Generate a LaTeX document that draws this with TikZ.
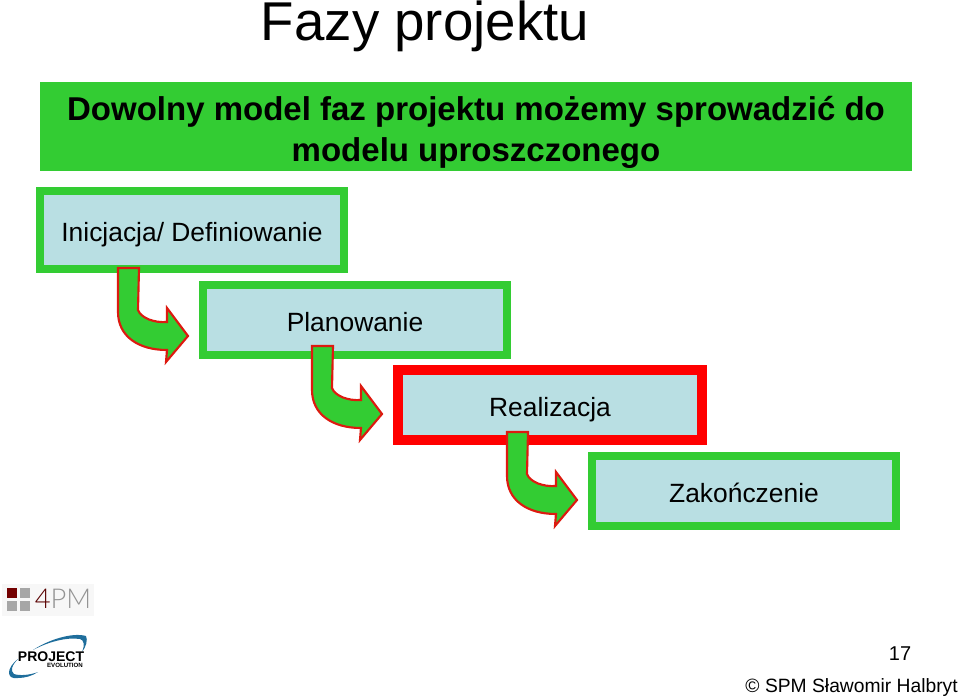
\documentclass[tikz,border=0pt]{standalone}
\usepackage{fontspec}
\setmainfont{Liberation Sans}
\newfontfamily\thinfont{Lato Light}
\usepackage{xcolor}
\usetikzlibrary{positioning}
\definecolor{phasegreen}{HTML}{33CC33}
\definecolor{phasefill}{HTML}{B9DFE3}
\definecolor{arrowred}{HTML}{DD1A10}
\definecolor{swoosh}{HTML}{1F6E9C}
\begin{document}
\begin{tikzpicture}[
  x=0.75pt, y=-0.75pt,
  phase/.style={draw=phasegreen, fill=phasefill, line width=6pt, minimum width=228pt,
    minimum height=52.5pt, align=center, text height=16.5pt, text depth=0pt,
    font=\fontsize{19.8}{24}\selectfont},
  current/.style={phase, draw=red, line width=6.8pt},
  header/.style={fill=phasegreen, minimum width=654pt, minimum height=66.75pt, align=center,
    font=\fontsize{24.75}{30.75}\selectfont\bfseries},
  turn/.style={draw=arrowred, fill=phasegreen, line width=1.6pt, line join=miter},
  small/.style={font=\fontsize{14.45}{18}\selectfont, inner sep=0pt}
]
  \useasboundingbox (0,0) rectangle (960,699);

  \node[font=\fontsize{41}{50}\selectfont, inner sep=0pt] (title) at (425,26) {Fazy projektu};
  \node[header] (intro) at (476,126.5) {};
  \node[font=\fontsize{24.75}{30.75}\selectfont\bfseries, align=center, inner sep=0pt] (introtext) at (476,132)
    {Dowolny model faz projektu możemy sprowadzić do\\modelu uproszczonego};

  \node[phase, minimum height=58.5pt] (init) at (192,230) {Inicjacja/ Definiowanie};
  \node[phase] (plan) at (355,320) {Planowanie};
  \node[current] (real) at (550,405) {Realizacja};
  \node[phase] (close) at (744,491) {Zakończenie};

  % block arrows hang from the lower edge of each box
  \foreach \from/\dx/\dy in {init/0/0, plan/194/78, real/389/164} {
    \begin{scope}[shift={(\dx,\dy)}]
      \draw[turn] (118,268) -- (139,268) -- (138,310)
        .. controls (141,318) and (154,323) .. (167,322)
        -- (167,308) -- (188,336) -- (166,362) -- (167,350)
        .. controls (138,350) and (118,336) .. (118,312) -- cycle;
    \end{scope}
  }

  % 4PM logo
  \fill[gray!6] (2,584) rectangle (94,616);
  \fill[red!45!black] (7,588) rectangle (17,598);
  \foreach \sqx/\sqy in {20/588, 7/601, 20/601}
    \fill[gray!70] (\sqx,\sqy) rectangle ++(10,10);
  \node[font=\fontsize{20.5}{24}\selectfont\thinfont, text=gray!85, inner sep=0pt] (logoa) at (63,599)
    {\textcolor{red!35!black}{4}PM};

  % project logo
  \fill[swoosh] (33,650) .. controls (48,640) and (72,632) .. (86,636)
    .. controls (88,640) and (86,647) .. (82,652) .. controls (85,645) and (84,640) .. (80,639)
    .. controls (66,637) and (48,642) .. (33,650);
  \fill[swoosh] (18,659) .. controls (6,668) and (6,680) .. (18,678)
    .. controls (25,678) and (32,676) .. (38,672) .. controls (30,675) and (20,676) .. (14,674)
    .. controls (10,671) and (12,665) .. (18,659);
  \node[font=\fontsize{10.5}{12}\selectfont\bfseries, inner sep=0pt] (logob) at (51,656.5) {PROJECT};
  \node[font=\fontsize{4.6}{6}\selectfont\bfseries, inner sep=0pt] (logoc) at (65,665) {EVOLUTION};

  \node[small, font=\fontsize{15}{18}\selectfont] (page) at (900,654) {17};
  \node[small, anchor=east] (credit) at (958,688) {© SPM Sławomir Halbryt};
\end{tikzpicture}
\end{document}
